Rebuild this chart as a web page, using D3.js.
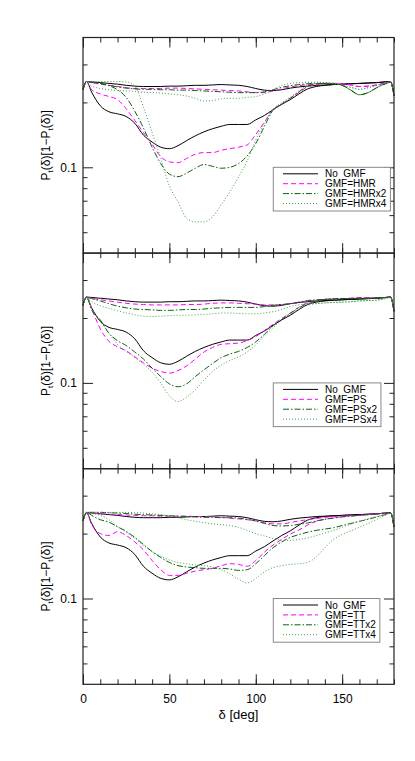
<!DOCTYPE html>
<html>
<head>
<meta charset="utf-8">
<script src="https://cdnjs.cloudflare.com/ajax/libs/d3/7.8.5/d3.min.js"></script>
<style>
  body { margin: 0; background: #fff; }
  svg { font-family: "Liberation Sans", Arial, Helvetica, sans-serif; }
</style>
</head>
<body>
<script>
// angle grid (deg) shared by every curve
var delta = [0,2,5,10,15,20,25,30,35,40,45,50,55,60,65,70,75,80,85,90,95,100,105,110,115,120,125,130,135,140,145,150,155,160,165,170,175,178,180];

// no GMF (same in all panels): upper and lower branch
var noGmfHi = [.229,.250,.249,.247,.245,.243,.240,.238,.237,.237,.237,.238,.238,.239,.240,.240,.241,.242,.241,.240,.237,.232,.228,.227,.229,.233,.236,.238,.240,.241,.242,.243,.244,.245,.246,.247,.249,.250,.215];
var noGmfLo = [.229,.250,.223,.193,.181,.177,.172,.160,.141,.131,.124,.122,.126,.133,.140,.146,.151,.155,.158,.158,.158,.166,.174,.185,.196,.206,.219,.231,.237,.240,.242,.243,.244,.245,.246,.247,.249,.250,.215];

// HMR panel
var hmrHi  = [.229,.250,.247,.243,.240,.237,.234,.232,.232,.232,.232,.233,.233,.232,.231,.230,.229,.228,.227,.226,.224,.222,.222,.226,.231,.236,.239,.242,.244,.245,.245,.244,.241,.237,.238,.241,.246,.249,.215];
var hmrLo  = [.229,.250,.229,.219,.213,.206,.187,.165,.145,.128,.112,.106,.105,.110,.115,.117,.117,.120,.122,.124,.127,.142,.162,.185,.197,.209,.222,.236,.242,.245,.245,.244,.241,.237,.238,.241,.246,.249,.215];
var hmr2Hi = [.229,.250,.248,.245,.240,.236,.233,.231,.230,.230,.229,.229,.228,.228,.227,.226,.225,.224,.223,.222,.222,.222,.224,.229,.235,.239,.242,.244,.245,.245,.244,.240,.228,.217,.222,.234,.244,.248,.215];
var hmr2Lo = [.229,.250,.248,.245,.239,.229,.211,.182,.152,.124,.104,.093,.0905,.094,.099,.103,.101,.099,.100,.104,.113,.129,.155,.184,.196,.209,.224,.238,.244,.245,.244,.240,.228,.217,.222,.234,.244,.248,.215];
var hmr4Hi = [.229,.245,.238,.232,.229,.227,.226,.225,.223,.222,.221,.219,.217,.214,.209,.203,.204,.208,.209,.209,.211,.213,.219,.229,.240,.245,.247,.248,.248,.247,.245,.241,.235,.230,.234,.240,.246,.249,.215];
var hmr4Lo = [.229,.250,.250,.250,.250,.250,.249,.238,.190,.145,.110,.082,.069,.058,.0558,.0558,.059,.067,.077,.090,.107,.134,.161,.186,.199,.212,.226,.240,.246,.247,.245,.241,.235,.230,.234,.240,.246,.249,.215];

// PS panel
var psHi  = [.229,.250,.247,.243,.240,.237,.234,.232,.231,.230,.230,.230,.230,.231,.231,.232,.234,.235,.235,.234,.233,.232,.230,.230,.231,.233,.236,.240,.242,.244,.245,.246,.247,.248,.248,.248,.249,.250,.215];
var psLo  = [.229,.250,.221,.178,.156,.147,.141,.132,.124,.117,.113,.111,.114,.120,.129,.139,.146,.151,.152,.153,.157,.164,.175,.187,.199,.211,.225,.235,.240,.244,.245,.246,.247,.248,.248,.248,.249,.250,.215];
var ps2Hi = [.229,.250,.246,.240,.233,.227,.223,.220,.219,.218,.217,.217,.218,.219,.219,.220,.222,.223,.224,.224,.224,.224,.226,.229,.231,.233,.237,.241,.243,.244,.245,.246,.246,.247,.247,.248,.249,.250,.215];
var ps2Lo = [.229,.250,.218,.196,.170,.157,.149,.139,.129,.117,.107,.099,.096,.099,.107,.115,.123,.131,.136,.140,.146,.155,.168,.184,.197,.210,.223,.234,.240,.244,.245,.246,.246,.247,.247,.248,.249,.250,.215];
var ps4Hi = [.229,.248,.238,.228,.222,.216,.211,.207,.204,.203,.204,.205,.206,.206,.207,.208,.209,.211,.211,.210,.209,.209,.211,.214,.219,.226,.230,.233,.234,.235,.236,.237,.238,.240,.241,.242,.246,.249,.215];
var ps4Lo = [.229,.250,.222,.193,.170,.151,.140,.131,.122,.112,.100,.087,.082,.086,.093,.103,.113,.121,.127,.132,.139,.150,.165,.180,.195,.208,.220,.229,.233,.235,.236,.237,.238,.240,.241,.242,.246,.249,.215];

// TT panel
var ttHi  = [.229,.250,.249,.247,.246,.245,.244,.243,.242,.242,.241,.241,.241,.241,.240,.240,.239,.238,.236,.234,.232,.229,.225,.222,.222,.225,.229,.232,.235,.238,.240,.241,.242,.243,.245,.247,.249,.250,.215];
var ttLo  = [.229,.250,.220,.200,.196,.204,.196,.183,.168,.150,.136,.128,.128,.131,.134,.136,.138,.142,.145,.144,.141,.150,.164,.177,.188,.199,.208,.219,.228,.233,.237,.240,.242,.243,.245,.247,.249,.250,.215];
var tt2Hi = [.229,.251,.251,.251,.250,.249,.248,.246,.245,.244,.243,.242,.241,.240,.239,.238,.238,.237,.237,.236,.233,.229,.223,.218,.217,.218,.221,.224,.229,.233,.236,.239,.241,.243,.245,.247,.249,.250,.215];
var tt2Lo = [.229,.251,.243,.232,.226,.215,.205,.192,.178,.165,.155,.147,.142,.140,.139,.138,.138,.138,.137,.135,.136,.145,.158,.172,.183,.192,.198,.203,.207,.210,.213,.218,.223,.228,.233,.239,.245,.249,.215];
var tt4Hi = [.229,.251,.251,.251,.251,.251,.251,.250,.249,.247,.245,.242,.237,.232,.228,.225,.222,.220,.218,.214,.207,.200,.195,.190,.187,.186,.188,.191,.196,.201,.207,.214,.221,.228,.234,.240,.246,.249,.215];
var tt4Lo = [.229,.250,.248,.243,.232,.216,.203,.190,.176,.165,.157,.151,.147,.145,.143,.142,.140,.136,.130,.123,.118,.124,.133,.139,.142,.144,.145,.147,.156,.172,.188,.198,.206,.214,.223,.233,.243,.249,.215];

// legend texts and tick values
var hmrLabels = ["No\u00a0\u00a0GMF", "GMF=HMR", "GMF=HMRx2", "GMF=HMRx4"];
var psLabels  = ["No\u00a0\u00a0GMF", "GMF=PS", "GMF=PSx2", "GMF=PSx4"];
var ttLabels  = ["No\u00a0\u00a0GMF", "GMF=TT", "GMF=TTx2", "GMF=TTx4"];
var xMinorTicks = [0,10,20,30,40,50,60,70,80,90,100,110,120,130,140,150,160,170,180];
var xMajorTicks = [0, 50, 100, 150];
var yMinorTicks = [0.05, 0.06, 0.07, 0.08, 0.09, 0.2, 0.3];
var yMajorTicks = [0.1];

var panels = [
  {labels: hmrLabels, series: [[noGmfHi, noGmfLo], [hmrHi, hmrLo], [hmr2Hi, hmr2Lo], [hmr4Hi, hmr4Lo]]},
  {labels: psLabels,  series: [[noGmfHi, noGmfLo], [psHi, psLo], [ps2Hi, ps2Lo], [ps4Hi, ps4Lo]]},
  {labels: ttLabels,  series: [[noGmfHi, noGmfLo], [ttHi, ttLo], [tt2Hi, tt2Lo], [tt4Hi, tt4Lo]]}
];

var styles = [
  {color: "#000000", dash: null, width: 1},
  {color: "#ff00ff", dash: "5,3", width: 1},
  {color: "#0a640a", dash: "6,2,1.5,2", width: 1},
  {color: "#459e45", dash: "1,2", width: 1}
];

var width = 311;
var panelHeight = 215.6;
var margin = {left: 83, top: 37.5};

var svg = d3.select("body").append("svg").attr("width", 415).attr("height", 761);

var x = d3.scaleLinear().domain([0, 180]).range([0, width]);
var y = d3.scaleLog().domain([0.04, 0.4]).range([panelHeight, 0]);

var line = d3.line()
  .curve(d3.curveMonotoneX)
  .x(function(d){ return x(d[0]); })
  .y(function(d){ return y(d[1]); });

function noDomain(a) {
  a.select(".domain").remove();
  a.selectAll(".tick line").attr("stroke", "#222").attr("stroke-width", 1);
  a.selectAll("text").attr("font-family", "\"Liberation Sans\", Arial, sans-serif").attr("font-size", 12).attr("fill", "#000");
}

panels.forEach(function(p, i) {
  var top = margin.top + i * panelHeight;
  var g = svg.append("g").attr("transform", "translate(" + margin.left + "," + top + ")");

  // curves
  p.series.forEach(function(pair, k) {
    pair.forEach(function(vals) {
      g.append("path")
        .attr("d", line(d3.zip(delta, vals)))
        .attr("fill", "none")
        .attr("stroke", styles[k].color)
        .attr("stroke-width", styles[k].width)
        .attr("stroke-dasharray", styles[k].dash);
    });
  });

  // frame
  g.append("rect").attr("width", width).attr("height", panelHeight)
    .attr("fill", "none").attr("stroke", "#222").attr("stroke-width", 1.2);

  // x ticks, bottom and top
  g.append("g").attr("transform", "translate(0," + panelHeight + ")")
    .call(d3.axisBottom(x).tickValues(xMinorTicks).tickSize(-5).tickSizeOuter(0).tickFormat(""))
    .call(noDomain);
  g.append("g").attr("transform", "translate(0," + panelHeight + ")")
    .call(d3.axisBottom(x).tickValues(xMajorTicks).tickSize(-10).tickSizeOuter(0).tickPadding(10)
      .tickFormat(i == 2 ? d3.format("d") : ""))
    .call(noDomain);
  g.append("g")
    .call(d3.axisTop(x).tickValues(xMinorTicks).tickSize(-5).tickSizeOuter(0).tickFormat(""))
    .call(noDomain);
  g.append("g")
    .call(d3.axisTop(x).tickValues(xMajorTicks).tickSize(-10).tickSizeOuter(0).tickFormat(""))
    .call(noDomain);

  // y ticks, left and right
  g.append("g")
    .call(d3.axisLeft(y).tickValues(yMinorTicks).tickSize(-4.5).tickSizeOuter(0).tickFormat(""))
    .call(noDomain);
  g.append("g")
    .call(d3.axisLeft(y).tickValues(yMajorTicks).tickSize(-10).tickSizeOuter(0).tickPadding(6).tickFormat(d3.format(".1f")))
    .call(noDomain);
  g.append("g").attr("transform", "translate(" + width + ",0)")
    .call(d3.axisRight(y).tickValues(yMinorTicks).tickSize(-4.5).tickSizeOuter(0).tickFormat(""))
    .call(noDomain);
  g.append("g").attr("transform", "translate(" + width + ",0)")
    .call(d3.axisRight(y).tickValues(yMajorTicks).tickSize(-10).tickSizeOuter(0).tickFormat(""))
    .call(noDomain);

  // y label
  var lab = svg.append("text")
    .attr("transform", "translate(50," + (top + panelHeight / 2) + ")rotate(-90)")
    .attr("text-anchor", "middle")
    .style("font-size", "12px");
  lab.append("tspan").text("P");
  lab.append("tspan").attr("dy", 3).style("font-size", "8px").text("t");
  lab.append("tspan").attr("dy", -3).text("(\u03b4)[1\u2212P");
  lab.append("tspan").attr("dy", 3).style("font-size", "8px").text("t");
  lab.append("tspan").attr("dy", -3).text("(\u03b4)]");

  // legend
  var lg = g.append("g").attr("transform", "translate(190.3," + y(0.1) + ")");
  var box = lg.append("rect").attr("fill", "#fff").attr("stroke", "#888").attr("stroke-width", 1);
  var maxLen = 0;
  p.labels.forEach(function(name, k) {
    var ry = 6.5 + k * 9.9;
    lg.append("line").attr("x1", 9.7).attr("x2", 44.7).attr("y1", ry).attr("y2", ry)
      .attr("stroke", styles[k].color).attr("stroke-width", styles[k].width)
      .attr("stroke-dasharray", styles[k].dash);
    var t = lg.append("text").attr("x", 51.7).attr("y", ry + 3.6)
      .style("font-size", "10px").text(name);
    maxLen = Math.max(maxLen, t.node().getComputedTextLength());
  });
  box.attr("width", 51.7 + maxLen + 4).attr("height", 43.7);
});

// x label
svg.append("text")
  .attr("x", margin.left + width / 2)
  .attr("y", 719)
  .attr("text-anchor", "middle")
  .style("font-size", "13px")
  .text("\u03b4 [deg]");
</script>
</body>
</html>
